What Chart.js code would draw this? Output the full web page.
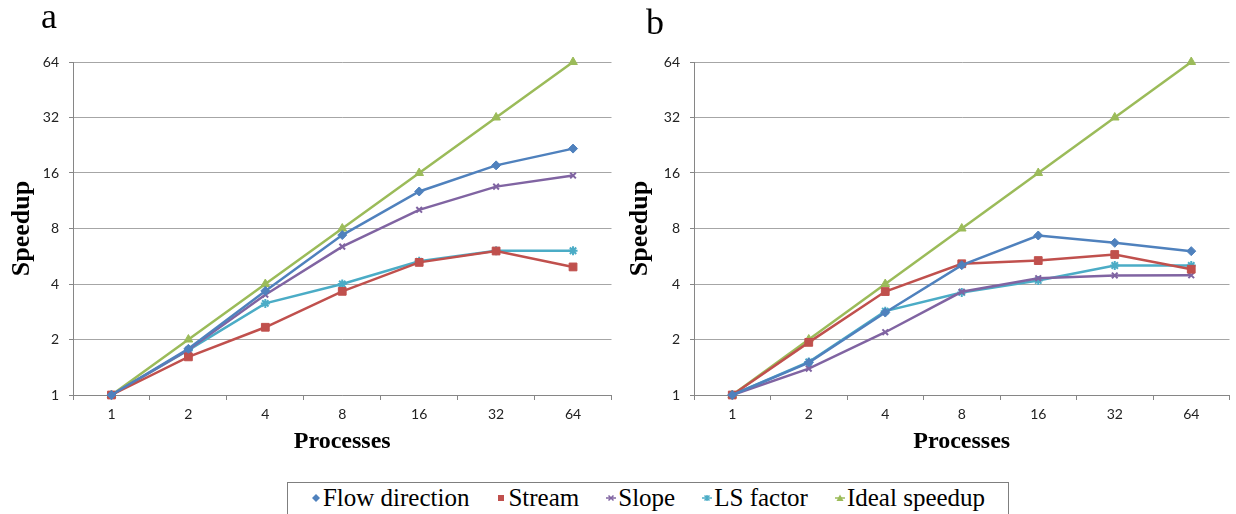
<!DOCTYPE html>
<html>
<head>
<meta charset="utf-8">
<script src="https://cdn.jsdelivr.net/npm/chart.js@4.4.1/dist/chart.umd.min.js"></script>
<style>
  body { margin: 0; background: #fff; }
  #wrap { position: relative; width: 1236px; height: 514px; overflow: hidden; background: #fff; }
  .panel { position: absolute; top: 0; }
  .tag { position: absolute; font-family: "Liberation Serif", "Times New Roman", serif; font-size: 36px; color: #000; }
  #legend {
    position: absolute; left: 287px; top: 482px; width: 722px; height: 44px;
    border: 1px solid #7f7f7f; box-sizing: border-box;
    display: flex; justify-content: center; align-items: flex-start; gap: 27px;
    font-family: "Liberation Serif", "Times New Roman", serif; font-size: 25px; color: #000; padding-top: 1px;
  }
  #legend .item { display: flex; align-items: center; white-space: nowrap; }
  #legend .item span { font-family: "Liberation Serif", "Times New Roman", serif; }
  #legend svg { margin-right: 2px; }
</style>
</head>
<body>
<div id="wrap">
  <canvas id="chartA" class="panel" width="618" height="470" style="left:0"></canvas>
  <canvas id="chartB" class="panel" width="618" height="470" style="left:618px"></canvas>
  <div class="tag" style="left:41px; top:-5px">a</div>
  <div class="tag" style="left:646px; top:1px">b</div>
  <div id="legend"></div>
</div>
<script>
// ---- data ----
const processes = ['1', '2', '4', '8', '16', '32', '64'];
const yTicks = [1, 2, 4, 8, 16, 32, 64];
const seriesNames = ['Flow direction', 'Stream', 'Slope', 'LS factor', 'Ideal speedup'];
const seriesColors = ['#4F81BD', '#C0504D', '#8064A2', '#4BACC6', '#9BBB59'];
const seriesMarkers = ['rectRot', 'rect', 'crossRot', 'star', 'triangle'];

// panel a
const flowA   = [1, 1.78, 3.67, 7.37, 12.7, 17.6, 21.7];
const streamA = [1, 1.61, 2.33, 3.65, 5.24, 6.04, 4.95];
const slopeA  = [1, 1.76, 3.50, 6.38, 10.1, 13.5, 15.5];
const lsA     = [1, 1.75, 3.14, 4.0, 5.31, 6.06, 6.06];
const idealA  = [1, 2, 4, 8, 16, 32, 64];

// panel b
const flowB   = [1, 1.50, 2.80, 5.06, 7.33, 6.69, 6.03];
const streamB = [1, 1.93, 3.64, 5.15, 5.36, 5.78, 4.81];
const slopeB  = [1, 1.39, 2.19, 3.63, 4.30, 4.45, 4.46];
const lsB     = [1, 1.51, 2.85, 3.60, 4.18, 5.04, 5.04];
const idealB  = [1, 2, 4, 8, 16, 32, 64];

// ---- helpers ----
const markerRadius = { rectRot: 4.5, rect: 5.5, crossRot: 4, star: 4.5, triangle: 5 };

function makeDatasets(values) {
    return values.map((v, i) => ({
        label: seriesNames[i],
        data: v,
        borderColor: seriesColors[i],
        backgroundColor: seriesColors[i],
        pointBackgroundColor: seriesColors[i],
        pointBorderColor: seriesColors[i],
        pointStyle: seriesMarkers[i],
        pointRadius: markerRadius[seriesMarkers[i]],
        pointBorderWidth: (seriesMarkers[i] === 'crossRot' || seriesMarkers[i] === 'star') ? 2 : 1,
        borderWidth: 2.5,
        tension: 0,
        fill: false,
        clip: false
    }));
}

function makeChart(id, values, yWidth, padRight) {
    const ctx = document.getElementById(id).getContext('2d');
    return new Chart(ctx, {
        type: 'line',
        data: { labels: processes, datasets: makeDatasets(values) },
        options: {
            responsive: false,
            animation: false,
            layout: { padding: { top: 62, right: padRight, bottom: 14, left: 0 } },
            plugins: { legend: { display: false }, tooltip: { enabled: false } },
            scales: {
                x: {
                    type: 'category',
                    offset: true,
                    grid: { offset: true, drawOnChartArea: false, drawTicks: true, tickLength: 5, color: '#868686' },
                    border: { display: true, color: '#868686' },
                    ticks: { color: '#222', font: { family: 'Lato', size: 14 }, padding: 6 },
                    title: {
                        display: true, text: 'Processes', color: '#000',
                        font: { family: 'Liberation Serif', size: 24, weight: 'bold' },
                        padding: { top: 0, bottom: 0 }
                    },
                    afterFit: (s) => { s.height = 61; }
                },
                y: {
                    type: 'logarithmic',
                    min: 1, max: 64,
                    afterBuildTicks: (s) => { s.ticks = yTicks.map(v => ({ value: v })); },
                    grid: { color: '#a6a6a6', tickColor: '#868686', tickLength: 4, drawTicks: true },
                    border: { display: true, color: '#868686' },
                    ticks: { color: '#222', font: { family: 'Lato', size: 14 }, padding: 10, callback: (v) => String(v) },
                    title: {
                        display: true, text: 'Speedup', color: '#000',
                        font: { family: 'Liberation Serif', size: 26, weight: 'bold' },
                        padding: { top: 7, bottom: 0 }
                    },
                    afterFit: (s) => { s.width = yWidth; }
                }
            }
        }
    });
}

makeChart('chartA', [flowA, streamA, slopeA, lsA, idealA], 73, 5);
makeChart('chartB', [flowB, streamB, slopeB, lsB, idealB], 76, 1);

// ---- shared legend ----
function markerSvg(style, color) {
    let shape = '';
    if (style === 'rectRot') shape = `<polygon points="5,1 9,5 5,9 1,5" fill="${color}"/>`;
    else if (style === 'rect') shape = `<rect x="2" y="2" width="6" height="6" fill="${color}"/>`;
    else if (style === 'crossRot') shape = `<line x1="0" y1="5" x2="10" y2="5" stroke="${color}" stroke-width="1.5"/><path d="M2.5 2.5 L7.5 7.5 M7.5 2.5 L2.5 7.5" stroke="${color}" stroke-width="1.5"/>`;
    else if (style === 'star') shape = `<line x1="0" y1="5" x2="10" y2="5" stroke="${color}" stroke-width="1.5"/><path d="M2.5 2.5 L7.5 7.5 M7.5 2.5 L2.5 7.5 M5 2 L5 8" stroke="${color}" stroke-width="1.5"/>`;
    else shape = `<line x1="0" y1="5" x2="10" y2="5" stroke="${color}" stroke-width="1.5"/><polygon points="5,1.5 8.5,8 1.5,8" fill="${color}"/>`;
    return `<svg width="10" height="10" viewBox="0 0 10 10">${shape}</svg>`;
}

const legend = document.getElementById('legend');
seriesNames.forEach((name, i) => {
    const item = document.createElement('div');
    item.className = 'item';
    item.innerHTML = markerSvg(seriesMarkers[i], seriesColors[i]) + '<span>' + name + '</span>';
    legend.appendChild(item);
});
</script>
</body>
</html>
